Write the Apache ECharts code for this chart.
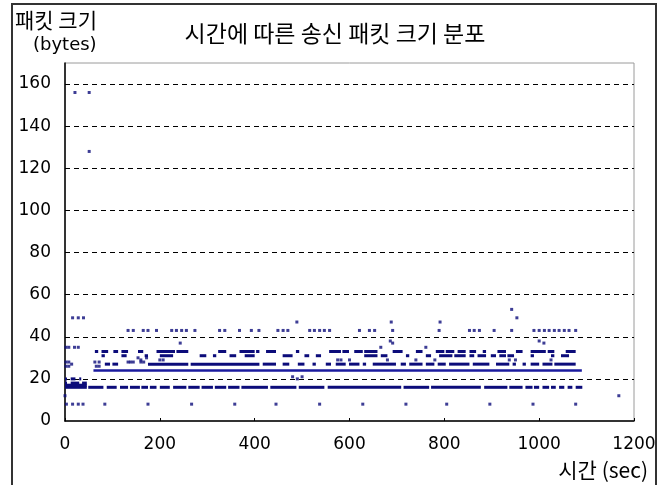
<!DOCTYPE html>
<html><head><meta charset="utf-8">
<script src="https://cdn.jsdelivr.net/npm/echarts@6/dist/echarts.min.js"></script>
<style>html,body{margin:0;padding:0;background:#fff}#c{width:666px;height:485px}</style>
</head><body><div id="c"></div>
<script>
// ---- data (time in sec, packet size in bytes) ----
const titleText = '시간에 따른 송신 패킷 크기 분포';
const yNameLine1 = '패킷 크기';
const yNameLine2 = '(bytes)';
const xName = '시간 (sec)';
const xTicks = [0, 200, 400, 600, 800, 1000, 1200];
const yTicks = [0, 20, 40, 60, 80, 100, 120, 140, 160];

// dense runs of packets: [tStart, tEnd]
const run16 = [[0,46],[49,81],[88,109],[116,133],[137,158],[161,175],[179,193],[200,221],[228,256],[260,284],[288,312],[316,340],[344,368],[372,428],[433,488],[493,547],[554,709],[714,768],[772,877],[884,933],[937,965],[971,986],[989,1000],[1007,1021],[1025,1035],[1042,1053],[1060,1070],[1077,1091]];
const run17 = [[0,46]];
const run18 = [[0,4],[12,30],[36,46]];
const run20 = [[0,4],[12,22],[30,34]];
const run24 = [[60,1090]];
const run27 = [[84,95],[100,112],[175,260],[265,410],[417,445],[459,473],[491,505],[522,529],[550,561],[571,592],[599,621],[628,635],[649,698],[708,719],[726,754],[761,779],[786,803],[810,853],[860,895],[909,937],[944,951],[965,972],[982,1000],[1007,1028],[1032,1077]];
const run31 = [[77,84],[119,130],[168,175],[200,228],[284,298],[312,319],[347,361],[379,400],[459,480],[505,515],[529,540],[631,659],[666,680],[719,726],[761,772],[789,817],[821,845],[853,863],[870,888],[898,909],[916,930],[933,947],[982,989],[1025,1032],[1046,1063]];
const run33 = [[63,70],[77,91],[102,112],[119,133],[154,165],[193,232],[235,260],[323,340],[368,400],[403,410],[424,445],[487,494],[557,582],[585,599],[610,628],[631,659],[691,712],[740,754],[782,800],[803,821],[828,845],[853,867],[881,888],[912,930],[951,965],[982,1014],[1018,1032],[1056,1077]];

// single packets
const times8 = [3,16,28,38,84,175,267,358,445,537,628,719,805,896,987,1077];
const times43 = [133,144,165,175,193,225,235,246,256,274,326,337,368,393,409,449,460,470,516,526,537,547,558,621,642,653,691,789,853,863,874,905,942,989,1000,1011,1021,1032,1042,1053,1063,1077];
const times49 = [16,28,39];
const otherPoints = [
  [21,156],[51,156],[51,128],
  [942,53],[953,49],[489,47],[688,47],[791,47],
  [243,37],[686,38],[691,37],[1000,38],[1010,37],
  [2,35],[8,35],[20,35],[28,35],[666,35],[761,35],
  [160,29],[200,29],[207,29],[575,29],[582,29],[600,29],[680,29],[740,29],[780,29],[937,29],[950,29],[1025,29],
  [2,28],[8,28],[2,26],[8,26],[14,27],[63,28],[66,26],[72,28],[72,26],
  [133,28],[138,28],[144,28],[154,30],[160,28],[166,28],[172,30],
  [480,21],[490,20],[500,21],
  [0,12],[1168,12]
];

// ---- build ----
const FONT = '"DejaVu Sans", "Noto Sans CJK KR", sans-serif';
const KFONT = '"Noto Sans CJK KR", "DejaVu Sans", sans-serif';
const DOT = '#0c0c7a';
const LINE = '#1a1a9e';

function runs(list, v) { return list.map(r => [r[0], r[1], v]); }
const runData = [].concat(runs(run16,16), runs(run17,17), runs(run18,18), runs(run20,20), runs(run27,27), runs(run31,31), runs(run33,33));
const pointData = [].concat(times8.map(t=>[t,8]), times43.map(t=>[t,43]), times49.map(t=>[t,49]), otherPoints);

function renderRun(color, h) {
  return function (params, api) {
    const a = api.coord([api.value(0), api.value(2)]);
    const b = api.coord([api.value(1), api.value(2)]);
    return { type: 'rect', shape: { x: a[0], y: a[1] - h/2, width: Math.max(b[0] - a[0], 2), height: h }, style: { fill: color } };
  };
}

const chart = echarts.init(document.getElementById('c'), null, { renderer: 'canvas' });
chart.setOption({
  animation: false,
  backgroundColor: '#fff',
  grid: { left: 65, right: 32, top: 63, bottom: 64, show: true, borderColor: '#9a9a9a', borderWidth: 1, backgroundColor: 'transparent' },
  xAxis: {
    type: 'value', min: xTicks[0], max: xTicks[xTicks.length-1], interval: 200,
    axisLine: { show: true, onZero: false, lineStyle: { color: '#000', width: 1.5 } },
    axisTick: { show: true, inside: true, length: 3, lineStyle: { color: '#000' } },
    axisLabel: { color: '#000', fontSize: 17, fontFamily: FONT, margin: 15, formatter: v => String(v) },
    splitLine: { show: false }
  },
  yAxis: {
    type: 'value', min: 0, max: 170, interval: 20,
    axisLine: { show: true, onZero: false, lineStyle: { color: '#000', width: 1.5 } },
    axisTick: { show: false },
    axisLabel: { color: '#000', fontSize: 17, fontFamily: FONT, margin: 14, showMaxLabel: false,
      formatter: v => yTicks.indexOf(v) >= 0 ? String(v) : '' },
    splitLine: { show: true, showMinLine: false, showMaxLine: false, lineStyle: { color: '#000', type: [5, 4], width: 1 } }
  },
  graphic: [
    { type: 'rect', shape: { x: 12, y: 4, width: 644, height: 500 }, style: { fill: 'none', stroke: '#333', lineWidth: 2 }, z: 100 },
    { type: 'text', x: 335, y: 33, style: { text: titleText, fontSize: 23, fontFamily: KFONT, fill: '#000', textAlign: 'center', textVerticalAlign: 'middle' } },
    { type: 'text', x: 15, y: 20, style: { text: yNameLine1, fontSize: 21, fontFamily: KFONT, fill: '#000', textAlign: 'left', textVerticalAlign: 'middle' } },
    { type: 'text', x: 33, y: 45, style: { text: yNameLine2, fontSize: 18, fontFamily: FONT, fill: '#000', textAlign: 'left', textVerticalAlign: 'middle' } },
    { type: 'text', x: 648, y: 470, style: { text: xName, fontSize: 21, fontFamily: KFONT, fill: '#000', textAlign: 'right', textVerticalAlign: 'middle' } }
  ],
  series: [
    { type: 'custom', renderItem: renderRun(DOT, 3), data: runData, encode: { x: [0, 1], y: 2 }, clip: true, z: 3 },
    { type: 'custom', renderItem: renderRun(LINE, 2.5), data: runs(run24, 24), encode: { x: [0, 1], y: 2 }, clip: true, z: 4 },
    { type: 'scatter', data: pointData, symbol: 'rect', symbolSize: 3, itemStyle: { color: DOT }, z: 5 }
  ]
});
</script></body></html>
